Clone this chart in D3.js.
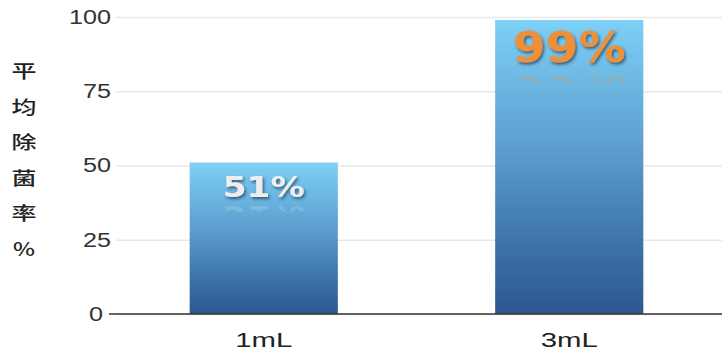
<!DOCTYPE html>
<html><head><meta charset="utf-8">
<script src="https://cdn.jsdelivr.net/npm/d3@7"></script>
<style>body{margin:0;background:#fff}svg{display:block}</style>
</head><body>
<script>
const categories = ["1mL", "3mL"];
const values = [51, 99];
const valueLabels = ["51%", "99%"];
const yTicks = [0, 25, 50, 75, 100];
const yTitle = ["平", "均", "除", "菌", "率", "%"];

const W = 722, H = 353;
const svg = d3.select("body").append("svg").attr("width", W).attr("height", H);
const defs = svg.append("defs");

const y = d3.scaleLinear().domain([0, 100]).range([314, 17]);
const x = d3.scaleBand().domain(categories).range([111, 722]).paddingInner(0.515).paddingOuter(0.2575);

const grad = defs.append("linearGradient").attr("id", "barGrad").attr("x1", 0).attr("y1", 0).attr("x2", 0).attr("y2", 1);
[[0, "#7dd0f6"], [0.45, "#5b9cce"], [0.8, "#396ea6"], [1, "#2f5690"]].forEach(([o, c]) =>
  grad.append("stop").attr("offset", o).attr("stop-color", c));

const shadow = defs.append("filter").attr("id", "shadow").attr("x", "-20%").attr("y", "-30%").attr("width", "140%").attr("height", "160%");
shadow.append("feDropShadow").attr("dx", 1.5).attr("dy", 2).attr("stdDeviation", 1.5).attr("flood-color", "#1b3350").attr("flood-opacity", 0.7);

// gridlines + tick labels
const axis = d3.axisLeft(y).tickValues(yTicks).tickSize(-(W - 116)).tickPadding(5);
const gA = svg.append("g").attr("transform", "translate(116,0)").call(axis);
gA.select(".domain").remove();
gA.selectAll(".tick line").attr("stroke", "#e8e8e8").attr("stroke-width", 1.5);
gA.selectAll(".tick text")
  .attr("font-family", "Liberation Sans, Arial, sans-serif")
  .attr("font-size", 20).attr("fill", "#333")
  .attr("textLength", d => String(d).length * 14)
  .attr("lengthAdjust", "spacingAndGlyphs")
  .attr("dx", d => d === 0 ? -8 : 0);

// bars
svg.append("g").selectAll("rect").data(categories).join("rect")
  .attr("x", d => x(d)).attr("width", x.bandwidth())
  .attr("y", (d, i) => y(values[i])).attr("height", (d, i) => y(0) - y(values[i]))
  .attr("fill", "url(#barGrad)");

// baseline
svg.append("line").attr("x1", 109).attr("x2", W).attr("y1", y(0)).attr("y2", y(0))
  .attr("stroke", "#333").attr("stroke-width", 1.6);

// value labels
const lab = [
  { size: 29, len: 82, fill: "#eeeeee", off: 34 },
  { size: 42, len: 113, fill: "#ee9038", off: 42 }
];
categories.forEach((c, i) => {
  const cx = x(c) + x.bandwidth() / 2;
  const by = y(values[i]) + lab[i].off;
  const L = lab[i];
  // faint reflection
  const mirror = by + L.size * 0.32;
  defs.append("clipPath").attr("id", "clip" + i).append("rect")
    .attr("x", cx - 80).attr("width", 160).attr("y", mirror).attr("height", L.size * 0.2);
  svg.append("g").attr("clip-path", "url(#clip" + i + ")")
    .append("text")
    .attr("transform", `translate(${cx},${mirror}) scale(1,-1)`)
    .attr("x", 0).attr("y", 0)
    .attr("text-anchor", "middle").attr("font-family", "DejaVu Sans, Verdana, sans-serif")
    .attr("font-weight", "bold").attr("font-size", L.size)
    .attr("textLength", L.len).attr("lengthAdjust", "spacingAndGlyphs")
    .attr("fill", L.fill).attr("opacity", 0.18)
    .text(valueLabels[i]);
  svg.append("text")
    .attr("x", cx).attr("y", by)
    .attr("text-anchor", "middle").attr("font-family", "DejaVu Sans, Verdana, sans-serif")
    .attr("font-weight", "bold").attr("font-size", L.size)
    .attr("textLength", L.len).attr("lengthAdjust", "spacingAndGlyphs")
    .attr("fill", L.fill).attr("filter", "url(#shadow)")
    .text(valueLabels[i]);
});

// category labels
svg.append("g").selectAll("text").data(categories).join("text")
  .attr("x", d => x(d) + x.bandwidth() / 2).attr("y", 347)
  .attr("text-anchor", "middle")
  .attr("font-family", "Liberation Sans, Arial, sans-serif").attr("font-size", 20)
  .attr("fill", "#222")
  .attr("textLength", 57).attr("lengthAdjust", "spacingAndGlyphs")
  .text(d => d);

// y title (vertical)
svg.append("g").selectAll("text").data(yTitle).join("text")
  .attr("x", 24).attr("y", (d, i) => 78 + i * 35.5)
  .attr("text-anchor", "middle")
  .attr("font-family", "Noto Sans CJK SC, sans-serif").attr("font-size", 18)
  .attr("font-weight", 500)
  .attr("fill", "#222")
  .attr("textLength", d => d === "%" ? 22 : 25).attr("lengthAdjust", "spacingAndGlyphs")
  .text(d => d);
</script>
</body></html>
